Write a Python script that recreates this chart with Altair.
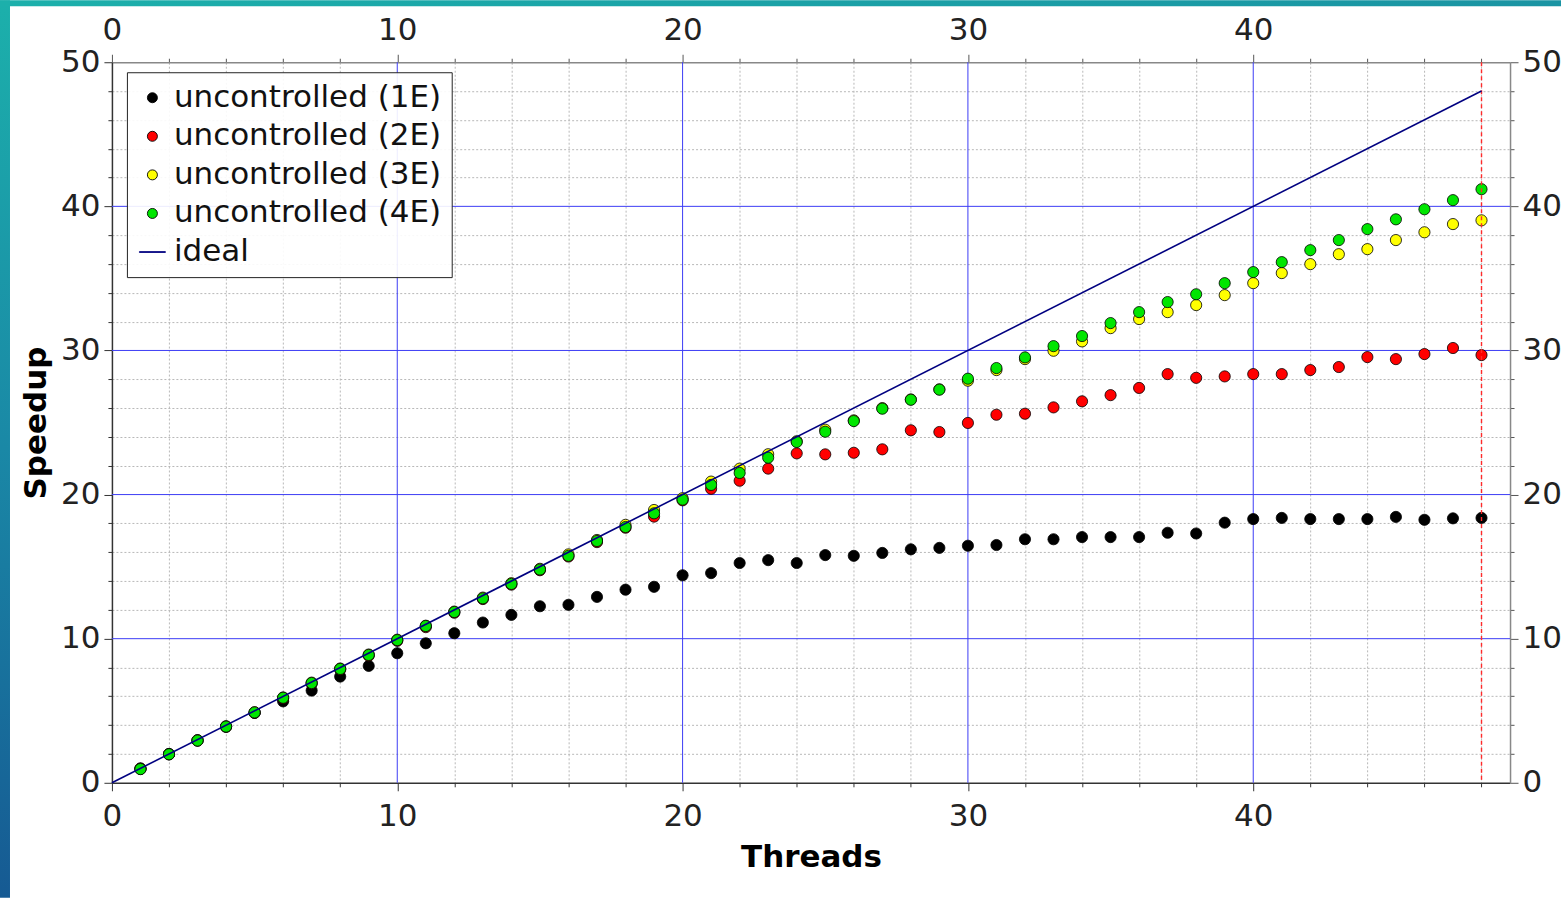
import altair as alt
import pandas as pd

threads = list(range(1, 49))
s1e = [1.0, 2.0, 2.95, 3.9, 4.85, 5.65, 6.4, 7.37, 8.11, 8.99, 9.68, 10.38, 11.12, 11.65, 12.25,
       12.35, 12.9, 13.4, 13.6, 14.4, 14.55, 15.25, 15.45, 15.25, 15.8, 15.75, 15.95, 16.2, 16.3,
       16.45, 16.5, 16.9, 16.9, 17.05, 17.05, 17.05, 17.35, 17.3, 18.05, 18.3, 18.38, 18.3, 18.3,
       18.3, 18.45, 18.25, 18.35, 18.38]
s2e = [0.96, 1.97, 2.92, 3.88, 4.85, 5.85, 6.88, 7.85, 8.82, 9.85, 10.8, 11.8, 12.75, 13.75, 14.75,
       15.7, 16.7, 17.7, 18.47, 19.6, 20.4, 20.96, 21.8, 22.86, 22.79, 22.9, 23.14, 24.46, 24.34,
       24.97, 25.54, 25.61, 26.05, 26.47, 26.9, 27.4, 28.36, 28.1, 28.2, 28.36, 28.36, 28.64, 28.85,
       29.54, 29.4, 29.75, 30.17, 29.68]
s3e = [0.97, 1.98, 2.95, 3.92, 4.9, 5.92, 6.95, 7.93, 8.9, 9.93, 10.9, 11.88, 12.85, 13.85, 14.85,
       15.85, 16.85, 17.9, 18.93, 19.75, 20.9, 21.8, 22.8, 23.7, 24.5, 25.15, 26.0, 26.6, 27.3,
       27.9, 28.64, 29.4, 29.98, 30.63, 31.55, 32.18, 32.66, 33.15, 33.84, 34.67, 35.37, 35.99,
       36.68, 37.03, 37.66, 38.2, 38.77, 39.03]
s4e = [0.95, 1.98, 2.93, 3.9, 4.88, 5.9, 6.92, 7.9, 8.87, 9.9, 10.88, 11.85, 12.8, 13.8, 14.8,
       15.75, 16.78, 17.75, 18.7, 19.65, 20.67, 21.5, 22.56, 23.65, 24.36, 25.1, 25.96, 26.58,
       27.28, 28.04, 28.78, 29.52, 30.3, 31.0, 31.9, 32.66, 33.36, 33.9, 34.67, 35.44, 36.13,
       36.96, 37.66, 38.42, 39.1, 39.8, 40.43, 41.19]

series_names = ["uncontrolled (1E)", "uncontrolled (2E)", "uncontrolled (3E)", "uncontrolled (4E)", "ideal"]
series_colors = ["#000000", "#ff0000", "#ffff00", "#00e600", "#000080"]
series_strokes = ["#000000", "#000000", "#000000", "#000000", "#000080"]
series_shapes = ["circle", "circle", "circle", "circle", "M-2.6,-0.08H2.6V0.08H-2.6Z"]

ideal_x = [0, 48]
ideal_y = [0, 48]
limit_threads = [48]
major_x = [10, 20, 30, 40]
major_y = [10, 20, 30, 40]

x_ticks = list(range(0, 50, 2))
y_ticks = list(range(0, 51, 2))

rows = []
for name, vals in zip(series_names[:4], [s1e, s2e, s3e, s4e]):
    for t, v in zip(threads, vals):
        rows.append({"threads": t, "speedup": v, "series": name})
df = pd.DataFrame(rows)
ideal_df = pd.DataFrame({"threads": ideal_x, "speedup": ideal_y})
limit_df = pd.DataFrame({"threads": limit_threads})
gx_df = pd.DataFrame({"threads": major_x})
gy_df = pd.DataFrame({"speedup": major_y})

FONT = "DejaVu Sans"
BLUE = "#3c3cf5"
major = "datum.value % 10 === 0"
tick_size = alt.condition(major, alt.value(8), alt.value(4))
grid_opacity = alt.condition(major, alt.value(0), alt.value(1))
label_expr = "datum.value % 10 === 0 ? datum.label : ''"

common = dict(labelFont=FONT, labelFontSize=31, labelColor="#222222", labelOverlap=False,
              labelFlush=False, tickSize=tick_size, tickWidth=1)

x_axis = alt.Axis(values=x_ticks, labelExpr=label_expr, grid=True, gridColor="#b8b8b8",
                  gridOpacity=grid_opacity, gridDash=[2, 2], gridWidth=1,
                  domainColor="#333333", domainWidth=1.5,
                  tickColor="#333333", labelPadding=11, title="Threads", titleFont=FONT,
                  titleFontSize=31, titleFontWeight="bold", titleColor="#000000",
                  titlePadding=11, **common)
y_axis = alt.Axis(values=y_ticks, labelExpr=label_expr, grid=True, gridColor="#b8b8b8",
                  gridOpacity=grid_opacity, gridDash=[2, 2], gridWidth=1,
                  domainColor="#333333", domainWidth=1.5,
                  tickColor="#333333", labelPadding=4, title="Speedup", titleFont=FONT,
                  titleFontSize=31, titleFontWeight="bold", titleColor="#000000",
                  titlePadding=8, **common)
x_top = alt.Axis(values=x_ticks, labelExpr=label_expr, orient="top", grid=False,
                 domainColor="#888888", domainWidth=1.5, tickColor="#555555", labelPadding=8,
                 title=None, **common)
y_right = alt.Axis(values=y_ticks, labelExpr=label_expr, orient="right", grid=False,
                   domainColor="#888888", domainWidth=1.5, tickColor="#555555", labelPadding=4,
                   title=None, **common)

xs = alt.Scale(domain=[0, 49], nice=False, zero=False)
ys = alt.Scale(domain=[0, 50], nice=False, zero=False)

legend = alt.Legend(orient="none", legendX=15, legendY=10, title=None, labelFont=FONT,
                    labelFontSize=31, labelColor="#111111", symbolSize=100, symbolOffset=0,
                    labelOffset=6, padding=10, rowPadding=6.6, fillColor="rgba(255,255,255,0.9)",
                    strokeColor="#222222", symbolStrokeWidth=0.9, labelLimit=400)

grid_v = alt.Chart(gx_df).mark_rule(color=BLUE, strokeWidth=1).encode(
    x=alt.X("threads:Q", scale=xs, axis=x_axis),
)
grid_h = alt.Chart(gy_df).mark_rule(color=BLUE, strokeWidth=1).encode(
    y=alt.Y("speedup:Q", scale=ys, axis=y_axis),
)

points = alt.Chart(df).mark_point(filled=True, size=125, strokeWidth=0.8,
                                  opacity=1).encode(
    x=alt.X("threads:Q", scale=xs, axis=x_axis),
    y=alt.Y("speedup:Q", scale=ys, axis=y_axis),
    color=alt.Color("series:N", scale=alt.Scale(domain=series_names, range=series_colors),
                    legend=legend, sort=series_names),
    stroke=alt.Stroke("series:N", scale=alt.Scale(domain=series_names, range=series_strokes),
                      legend=legend, sort=series_names),
    shape=alt.Shape("series:N", scale=alt.Scale(domain=series_names, range=series_shapes),
                    legend=legend, sort=series_names),
    order=alt.Order("order:Q"),
).transform_calculate(order="indexof(%s, datum.series)" % str(series_names))

limit = alt.Chart(limit_df).mark_rule(color="#ff2a2a", strokeDash=[4, 3], strokeWidth=1.4).encode(
    x=alt.X("threads:Q", scale=xs, axis=x_axis),
)

inner = alt.layer(grid_v, grid_h, points, limit)

ideal = alt.Chart(ideal_df).mark_line(color="#000080", strokeWidth=1.6).encode(
    x=alt.X("threads:Q", scale=xs, axis=x_top),
    y=alt.Y("speedup:Q", scale=ys, axis=y_right),
)

one = alt.Data(values=[{"k": 1}])
frame_left = alt.Chart(one).mark_rect(
    color=alt.Gradient(gradient="linear", x1=0, x2=0, y1=0, y2=1,
                       stops=[alt.GradientStop(offset=0, color="#1cb0ab"),
                              alt.GradientStop(offset=0.5, color="#1a88a6"),
                              alt.GradientStop(offset=1, color="#165a93")]),
    strokeWidth=0).encode(x=alt.value(-112), x2=alt.value(-102), y=alt.value(-62), y2=alt.value(836))
frame_top = alt.Chart(one).mark_rect(
    color=alt.Gradient(gradient="linear", x1=0, x2=1, y1=0, y2=0,
                       stops=[alt.GradientStop(offset=0, color="#1cb0ab"),
                              alt.GradientStop(offset=1, color="#1a94a3")]),
    strokeWidth=0).encode(x=alt.value(-112), x2=alt.value(1450), y=alt.value(-62), y2=alt.value(-56))

chart = alt.layer(frame_left, frame_top, inner, ideal).resolve_scale(
    x="independent", y="independent"
).properties(
    width=1399, height=721, padding=0, background="#ffffff"
).configure_view(stroke=None)

chart.save("out.html", embed_options={"renderer": "svg", "actions": False})
